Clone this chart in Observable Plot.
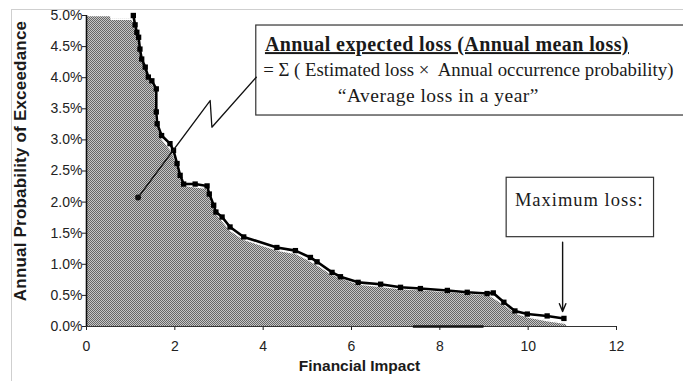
<!DOCTYPE html>
<html><head><meta charset="utf-8">
<script src="https://cdn.jsdelivr.net/npm/d3@7"></script>
<script src="https://cdn.jsdelivr.net/npm/@observablehq/plot@0.6"></script>
<style>
html,body{margin:0;padding:0;background:#fff;overflow:hidden;}
#wrap{position:relative;width:683px;height:381px;overflow:hidden;}
#border{position:absolute;left:11px;top:9px;width:700px;height:400px;border:1px solid #cfcfcf;pointer-events:none;}
</style></head><body>
<div id="wrap"><div id="chart"></div><div id="border"></div></div>
<script>
// Exceedance curve (black line with square markers): financial impact vs annual probability (%)
const lossX = [1.06,1.10,1.14,1.18,1.21,1.25,1.33,1.40,1.48,1.58,1.58,1.60,1.70,1.89,1.97,2.05,2.12,2.20,2.46,2.73,2.78,2.88,2.93,3.07,3.25,3.56,4.31,4.73,5.07,5.22,5.56,5.75,6.15,6.66,7.11,7.56,8.17,8.62,9.07,9.21,9.45,9.70,9.98,10.43,10.81];
const lossP = [5.00,4.85,4.73,4.65,4.46,4.30,4.17,4.01,3.95,3.82,3.45,3.26,3.07,2.94,2.83,2.62,2.43,2.29,2.29,2.26,2.13,1.95,1.84,1.76,1.60,1.44,1.27,1.22,1.11,1.04,0.87,0.80,0.71,0.68,0.63,0.61,0.58,0.55,0.53,0.54,0.39,0.25,0.20,0.17,0.13];
// Shaded area under the curve (top edge, drawn with a thin white line)
const fillX = [0,0.55,0.56,1.04,1.10,1.20,1.35,1.56,1.57,1.70,1.95,2.18,2.72,2.90,3.05,3.25,3.56,4.30,4.75,5.20,5.55,6.15,7.10,8.20,9.10,9.45,9.70,10.00,10.45,10.85,10.90];
const fillP = [5.00,5.00,4.94,4.94,4.80,4.55,4.12,3.80,3.30,3.02,2.80,2.27,2.22,1.86,1.72,1.55,1.40,1.23,1.17,1.00,0.84,0.68,0.61,0.56,0.51,0.36,0.22,0.15,0.09,0.05,0.00];
// Dark segment on the baseline
const baseStart = [7.4];
const baseEnd = [9.0];
// Tick labels
const xTicks = [0,2,4,6,8,10,12];
const yTicks = [0,0.5,1.0,1.5,2.0,2.5,3.0,3.5,4.0,4.5,5.0];
// Texts
const xLabel = "Financial Impact";
const yLabel = "Annual Probability of Exceedance";
const note1 = "Annual expected loss (Annual mean loss)";
const note2 = "= \u03A3 ( Estimated loss \u00D7  Annual occurrence probability)";
const note3 = "\u201CAverage loss in a year\u201D";
const noteMax = "Maximum loss:";
// Annotation callout (zig-zag pointer) in data units
const zigX = [1.168, 2.800, 2.839, 3.844];
const zigP = [2.074, 3.633, 3.204, 4.008];

const lossData = lossX.map((x, i) => ({x, p: lossP[i]}));
const fillData = fillX.map((x, i) => ({x, p: fillP[i]}));
const zigData = zigX.map((x, i) => ({x, p: zigP[i]}));
const baseData = baseStart.map((s, i) => ({x1: s, x2: baseEnd[i]}));

const serif = "'Liberation Serif', 'Times New Roman', serif";
const sans = "'Liberation Sans', Arial, sans-serif";

const chart = Plot.plot({
  width: 683, height: 381,
  marginLeft: 86, marginRight: 67, marginTop: 15, marginBottom: 55,
  style: {fontFamily: sans, fontSize: "14px", color: "#222", background: "transparent"},
  x: {domain: [0, 12], ticks: xTicks, tickSize: 4, tickPadding: 11, label: null},
  y: {domain: [0, 5], ticks: yTicks, tickSize: 4, tickPadding: 0, tickFormat: d => d.toFixed(1) + "%", label: null},
  marks: [
    Plot.areaY(fillData, {x: "x", y: "p", fill: "url(#stipple)"}),
    Plot.line(fillData, {x: "x", y: "p", stroke: "white", strokeWidth: 1.3}),
    Plot.ruleY([0], {stroke: "#333", strokeWidth: 1.2}),
    Plot.ruleX([0], {stroke: "#111", strokeWidth: 1.6}),
    Plot.ruleY(baseData, {y: 0, x1: "x1", x2: "x2", stroke: "#111", strokeWidth: 2.5}),
    Plot.line(lossData, {x: "x", y: "p", stroke: "#000", strokeWidth: 2.6}),
    Plot.dot(lossData, {x: "x", y: "p", symbol: "square", r: 3, fill: "#000"}),
    // callout box 1
    Plot.rect([{x1: 3.844, x2: 14, y1: 3.392, y2: 4.839}], {x1: "x1", x2: "x2", y1: "y1", y2: "y2", fill: "white", stroke: "#333", strokeWidth: 1.2, clip: false}),
    Plot.line(zigData, {x: "x", y: "p", stroke: "#111", strokeWidth: 1.3}),
    Plot.dot([zigData[0]], {x: "x", y: "p", r: 3, fill: "#111"}),
    Plot.text([note1], {x: 4.04, y: 4.531, text: d => d, textAnchor: "start", fontFamily: serif, fontSize: 20, fontWeight: "bold", fill: "#1a1a1a"}),
    Plot.text([note2], {x: 4.0, y: 4.122, text: d => d, textAnchor: "start", fontFamily: serif, fontSize: 18.8, fill: "#1a1a1a"}),
    Plot.text([note3], {x: 5.69, y: 3.704, text: d => d, textAnchor: "start", fontFamily: serif, fontSize: 19.5, fill: "#1a1a1a"}),
    // max loss box
    Plot.rect([{x1: 9.513, x2: 12.85, y1: 1.436, y2: 2.391}], {x1: "x1", x2: "x2", y1: "y1", y2: "y2", fill: "white", stroke: "#333", strokeWidth: 1.2, clip: false}),
    Plot.text([noteMax], {x: 9.70, y: 2.039, text: d => d, textAnchor: "start", fontFamily: serif, fontSize: 18.5, fill: "#1a1a1a"}),
    Plot.arrow([{x: 10.78, y1: 1.355, y2: 0.241}], {x1: "x", x2: "x", y1: "y1", y2: "y2", stroke: "#111", strokeWidth: 1.4, headLength: 9, headAngle: 45}),
    // axis titles
    Plot.text([xLabel], {frameAnchor: "bottom", text: d => d, textAnchor: "middle", dx: 8, dy: 44, fontFamily: sans, fontSize: 15.5, fontWeight: "bold", fill: "#1a1a1a"}),
    Plot.text([yLabel], {frameAnchor: "left", text: d => d, textAnchor: "middle", rotate: -90, dx: -66, dy: -10, fontFamily: sans, fontSize: 17, fontWeight: "bold", fill: "#1a1a1a"})
  ]
});

const svg = d3.select(chart);
const pat = svg.insert("defs", ":first-child").append("pattern")
  .attr("id", "stipple").attr("patternUnits", "userSpaceOnUse")
  .attr("width", 2).attr("height", 2);
pat.append("rect").attr("width", 2).attr("height", 2).attr("fill", "#c6c6c6");
pat.append("rect").attr("x", 0).attr("y", 0).attr("width", 1).attr("height", 1).attr("fill", "#666");
pat.append("rect").attr("x", 1).attr("y", 1).attr("width", 1).attr("height", 1).attr("fill", "#666");

svg.selectAll("text").each(function() {
  const t = this.textContent;
  if (t === note1) d3.select(this).attr("text-decoration", "underline").attr("letter-spacing", "0.4px");
  if (t === note3) d3.select(this).attr("letter-spacing", "0.5px");
  if (t === noteMax) d3.select(this).attr("letter-spacing", "1px");
  if (t === yLabel) d3.select(this).attr("letter-spacing", "0.2px");
});
document.getElementById("chart").appendChild(chart);
</script>
</body></html>
